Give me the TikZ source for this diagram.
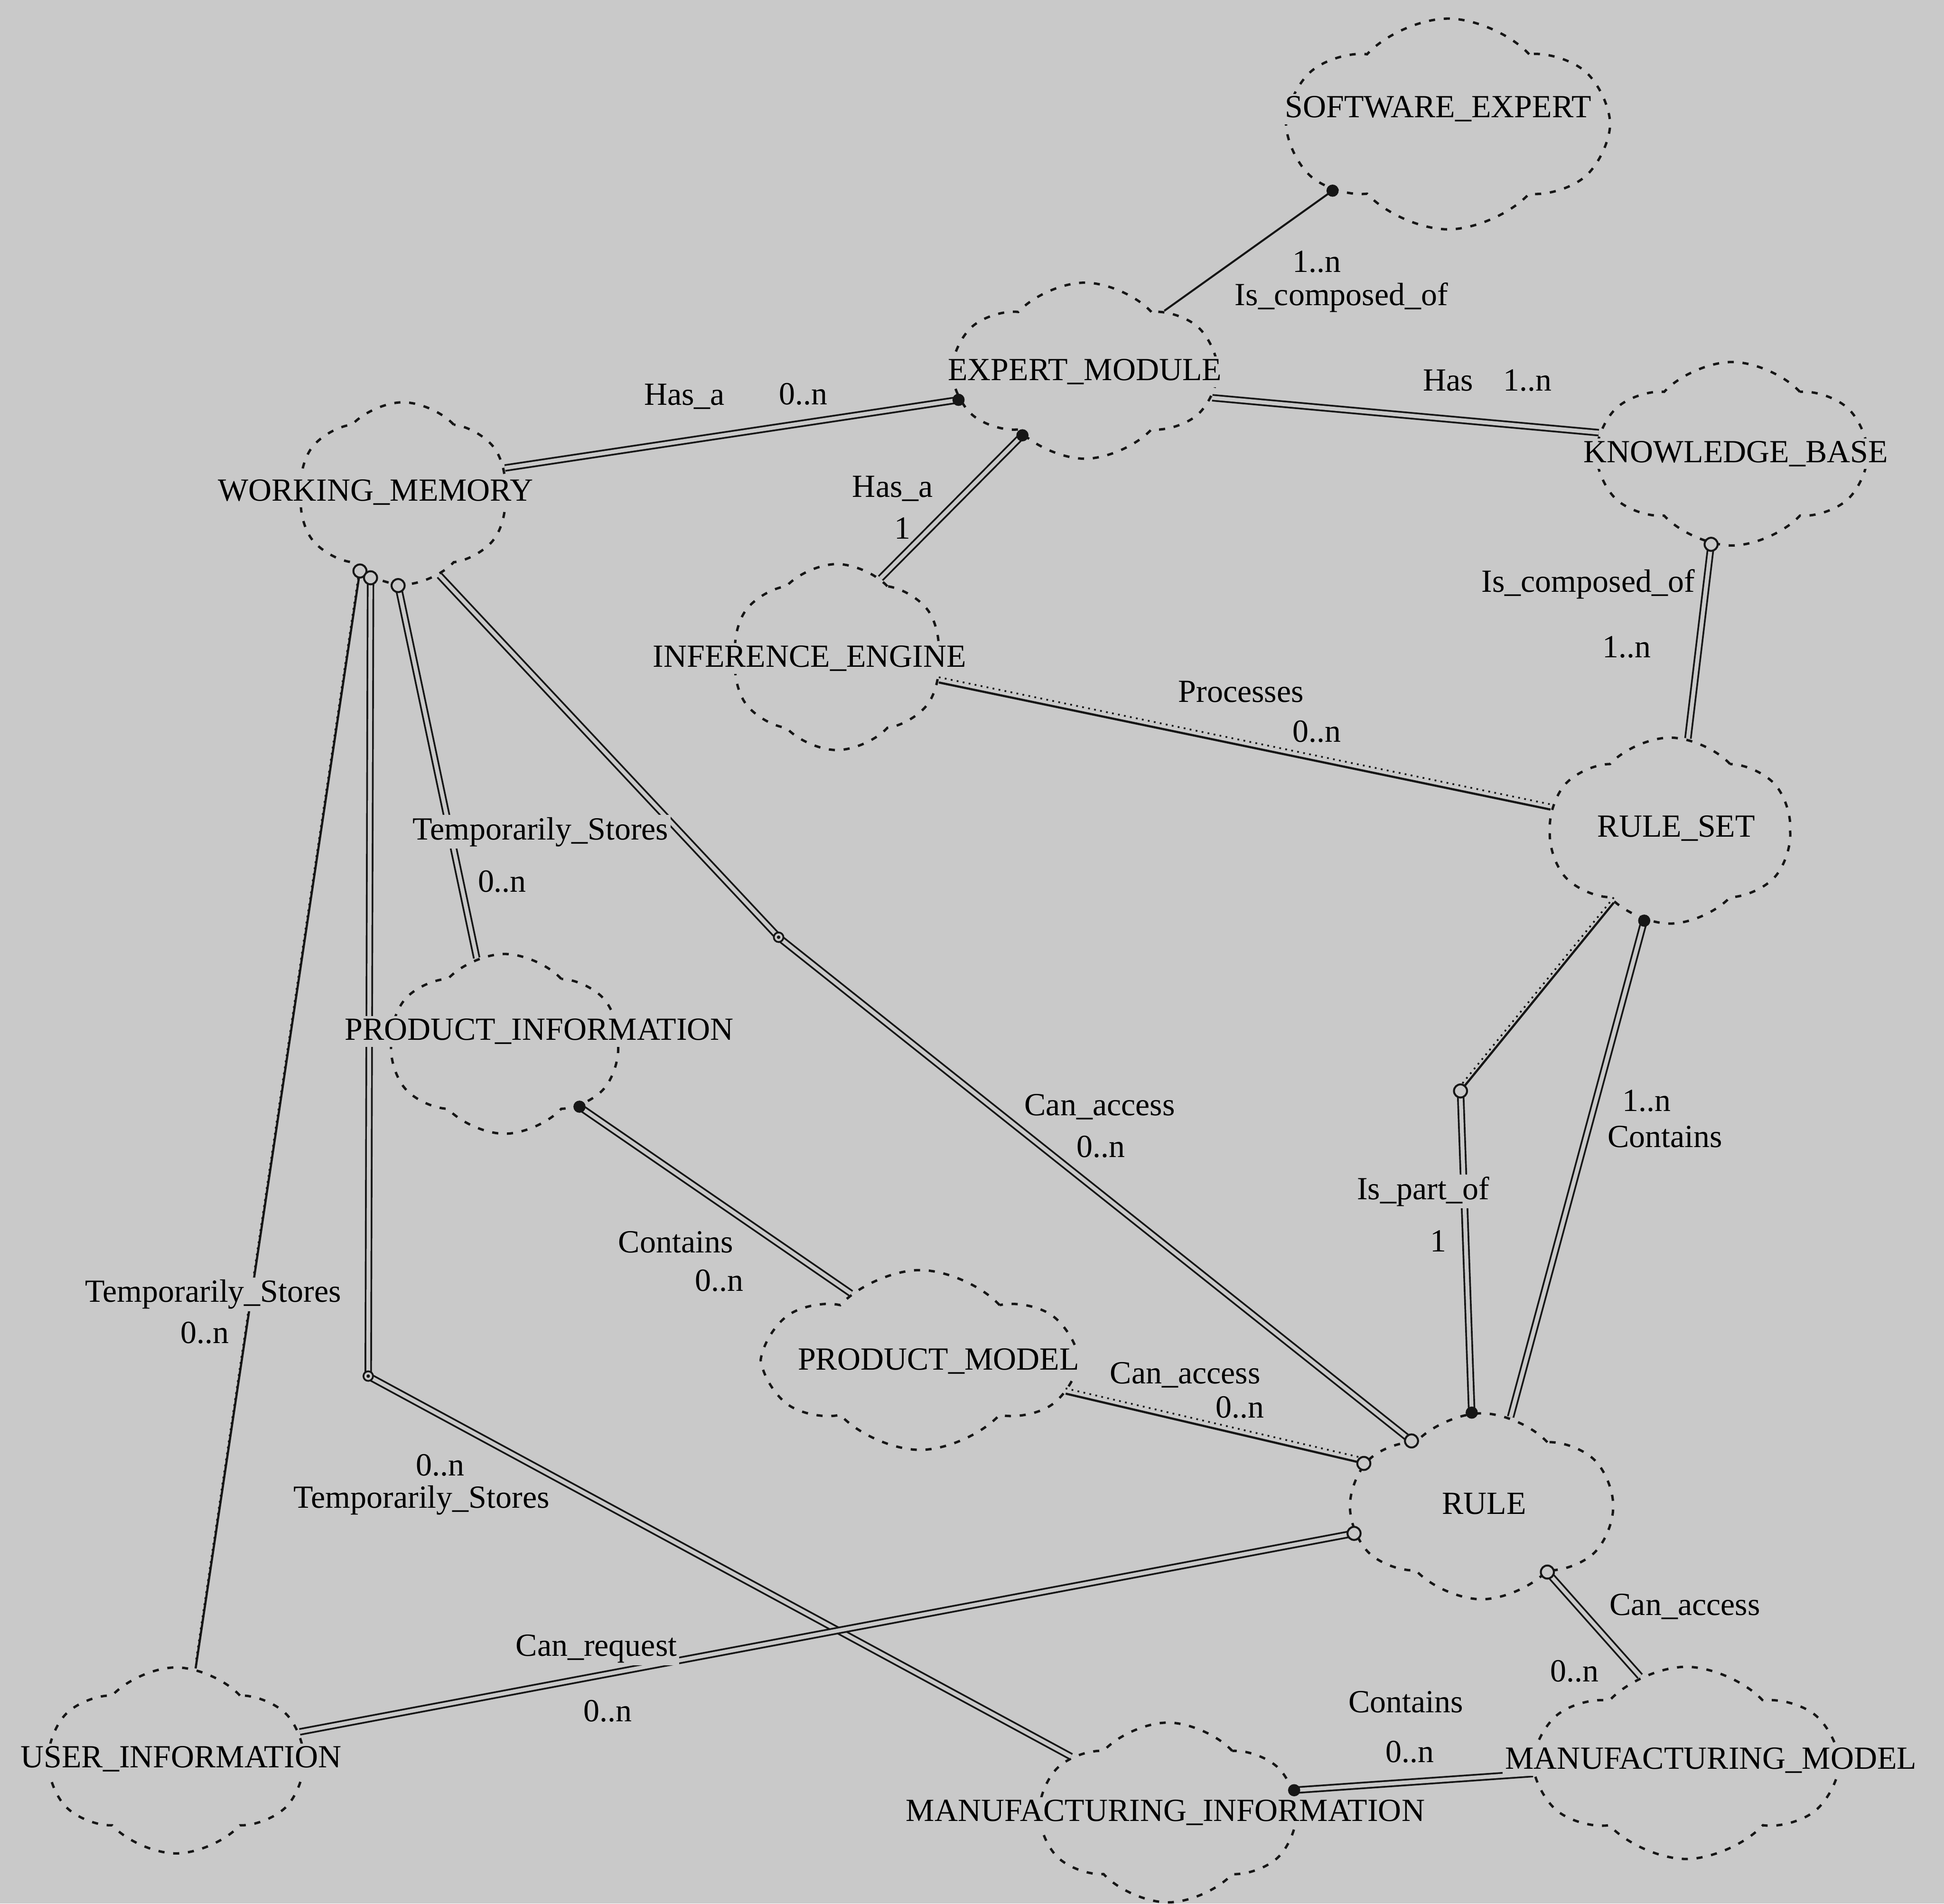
\documentclass[tikz,border=0pt]{standalone}
\usepackage{fontspec}
\setmainfont{Liberation Serif}
\usetikzlibrary{shapes.symbols}
\definecolor{paper}{RGB}{201,201,201}
\definecolor{ink}{RGB}{22,22,22}
% adornments at the ends of the associations
\newcommand{\fulldot}[1]{\fill[ink] (#1) circle (1.4pt);}
\newcommand{\opendot}[1]{\draw[ink, fill=paper, line width=0.45pt] (#1) circle (1.5pt);}
\newcommand{\benddot}[1]{\draw[ink, fill=paper, line width=0.4pt] (#1) circle (1.1pt); \fill[ink] (#1) circle (0.4pt);}
\begin{document}
\begin{tikzpicture}[
    x=1cm, y=-1cm,
    font=\fontsize{7.4}{8.5}\selectfont,
    classcloud/.style={cloud, cloud puffs=6, cloud puff arc=95, cloud ignores aspect, draw=ink, line width=0.55pt, dash pattern=on 1.4pt off 2pt},
    classname/.style={fill=paper, inner sep=0.6pt, text=black},
    rel/.style={draw=ink, line width=0.4pt, double=paper, double distance=0.9pt},
    halfrel/.style={draw=ink, line width=0.5pt, postaction={draw=ink, line width=0.4pt, densely dotted, transform canvas={yshift=1.2pt}}},
    single/.style={draw=ink, line width=0.45pt},
    lab/.style={fill=paper, inner sep=0.5pt, text=black}
]
\useasboundingbox (0,0) rectangle (15.68,15.355);
\fill[paper] (0,0) rectangle (15.68,15.355);

% clouds
\node[classcloud, minimum width=2.55cm, minimum height=1.7cm] (se) at (11.68,1.00) {};
\node[classcloud, minimum width=2.1cm, minimum height=1.42cm] (em) at (8.75,2.99) {};
\node[classcloud, minimum width=2.15cm, minimum height=1.48cm] (kb) at (13.97,3.66) {};
\node[classcloud, minimum width=1.7cm, minimum height=1.47cm] (wm) at (3.25,3.98) {};
\node[classcloud, minimum width=1.7cm, minimum height=1.5cm] (ie) at (6.75,5.30) {};
\node[classcloud, minimum width=1.95cm, minimum height=1.5cm] (rs) at (13.47,6.70) {};
\node[classcloud, minimum width=1.85cm, minimum height=1.45cm] (pi) at (4.07,8.42) {};
\node[classcloud, minimum width=2.45cm, minimum height=1.45cm] (pm) at (7.42,10.97) {};
\node[classcloud, minimum width=2.1cm, minimum height=1.5cm] (ru) at (11.95,12.15) {};
\node[classcloud, minimum width=2.05cm, minimum height=1.5cm] (ui) at (1.42,14.20) {};
\node[classcloud, minimum width=2.05cm, minimum height=1.45cm] (mi) at (9.42,14.62) {};
\node[classcloud, minimum width=2.4cm, minimum height=1.55cm] (mm) at (13.60,14.22) {};

% bends
\coordinate (store-bend) at (2.97,11.10);
\coordinate (access-bend) at (6.28,7.56);
\coordinate (part-bend) at (11.78,8.80);

% associations
\draw[single] (se.210) -- (em.37);
\draw[rel] (wm.14) -- (em.193);
\draw[rel] (em.348) -- (kb.171);
\draw[rel] (ie.61) -- (em.226);
\draw[rel] (kb.257) -- (rs.79);
\draw[halfrel] (ie.346) -- (rs.170);
\draw[halfrel] (wm.241) -- (ui.78);
\draw[rel] (wm.249) -- (store-bend) -- (mi.150);
\draw[rel] (wm.267) -- (pi.108);
\draw[rel] (wm.294) -- (access-bend) -- (ru.137);
\draw[rel] (pi.320) -- (pm.136);
\draw[halfrel] (pm.347) -- (ru.160);
\draw[rel] (rs.254) -- (ru.72);
\draw[halfrel] (rs.232) -- (part-bend);
\draw[rel] (part-bend) -- (ru.96);
\draw[rel] (ui.13) -- (ru.192);
\draw[rel] (ru.315) -- (mm.118);
\draw[rel] (mi.10) -- (mm.184);

% ends
\fulldot{se.210}
\fulldot{em.193}
\fulldot{em.226}
\fulldot{pi.320}
\fulldot{rs.254}
\fulldot{ru.96}
\fulldot{mi.10}
\opendot{kb.257}
\opendot{wm.241}
\opendot{wm.249}
\opendot{wm.267}
\opendot{ru.137}
\opendot{ru.160}
\opendot{ru.192}
\opendot{ru.315}
\opendot{part-bend}
\benddot{store-bend}
\benddot{access-bend}

% class names
\node[classname] (se-name) at (11.60,0.88) {SOFTWARE\_EXPERT};
\node[classname] (em-name) at (8.75,3.00) {EXPERT\_MODULE};
\node[classname] (kb-name) at (14.00,3.66) {KNOWLEDGE\_BASE};
\node[classname] (wm-name) at (3.03,3.97) {WORKING\_MEMORY};
\node[classname] (ie-name) at (6.53,5.31) {INFERENCE\_ENGINE};
\node[classname] (rs-name) at (13.52,6.68) {RULE\_SET};
\node[classname] (pi-name) at (4.35,8.32) {PRODUCT\_INFORMATION};
\node[classname] (pm-name) at (7.57,10.98) {PRODUCT\_MODEL};
\node[classname] (ru-name) at (11.97,12.13) {RULE};
\node[classname] (ui-name) at (1.46,14.19) {USER\_INFORMATION};
\node[classname] (mi-name) at (9.40,14.62) {MANUFACTURING\_INFORMATION};
\node[classname] (mm-name) at (13.80,14.20) {MANUFACTURING\_MODEL};

% association labels
\node[lab] (se-card) at (10.62,2.11) {1..n};
\node[lab] (se-role) at (10.82,2.40) {Is\_composed\_of};
\node[lab] (wm-role) at (5.52,3.20) {Has\_a};
\node[lab] (wm-card) at (6.48,3.18) {0..n};
\node[lab] (kb-role) at (11.68,3.07) {Has};
\node[lab] (kb-card) at (12.32,3.07) {1..n};
\node[lab] (ie-role) at (7.20,3.94) {Has\_a};
\node[lab] (ie-card) at (7.28,4.26) {1};
\node[lab] (rs-role) at (12.81,4.71) {Is\_composed\_of};
\node[lab] (rs-card) at (13.12,5.22) {1..n};
\node[lab] (proc-role) at (10.01,5.58) {Processes};
\node[lab] (proc-card) at (10.62,5.90) {0..n};
\node[lab] (pi-role) at (4.36,6.71) {Temporarily\_Stores};
\node[lab] (pi-card) at (4.05,7.11) {0..n};
\node[lab] (wr-role) at (8.87,8.93) {Can\_access};
\node[lab] (wr-card) at (8.88,9.25) {0..n};
\node[lab] (rr-card) at (13.28,8.88) {1..n};
\node[lab] (rr-role) at (13.43,9.17) {Contains};
\node[lab] (part-role) at (11.48,9.61) {Is\_part\_of};
\node[lab] (part-card) at (11.60,10.01) {1};
\node[lab] (pm-role) at (5.45,10.02) {Contains};
\node[lab] (pm-card) at (5.80,10.33) {0..n};
\node[lab] (ui-role) at (1.72,10.44) {Temporarily\_Stores};
\node[lab] (ui-card) at (1.65,10.75) {0..n};
\node[lab] (pr-role) at (9.56,11.09) {Can\_access};
\node[lab] (pr-card) at (10.00,11.35) {0..n};
\node[lab] (mi-card) at (3.55,11.82) {0..n};
\node[lab] (mi-role) at (3.40,12.10) {Temporarily\_Stores};
\node[lab] (mm-role) at (13.59,12.96) {Can\_access};
\node[lab] (mm-card) at (12.70,13.48) {0..n};
\node[lab] (req-role) at (4.81,13.30) {Can\_request};
\node[lab] (req-card) at (4.90,13.80) {0..n};
\node[lab] (mc-role) at (11.34,13.73) {Contains};
\node[lab] (mc-card) at (11.37,14.13) {0..n};
\end{tikzpicture}
\end{document}
